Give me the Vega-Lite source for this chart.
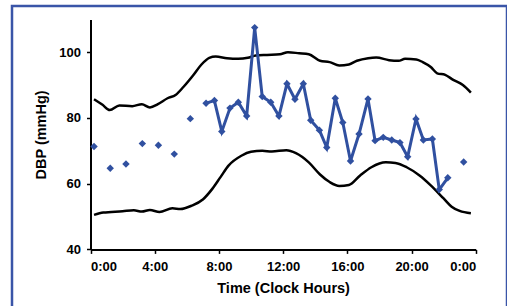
{
  "$schema": "https://vega.github.io/schema/vega-lite/v6.json",
  "autosize": "none",
  "padding": {"left": 12, "top": 6, "right": 0, "bottom": 0},
  "width": 495,
  "height": 320,
  "background": "white",
  "config": {
    "view": {"stroke": "#3a55a8", "strokeWidth": 2.5},
    "font": "Liberation Sans",
    "axis": {
      "grid": false,
      "domainColor": "black",
      "domainWidth": 2,
      "tickColor": "black",
      "tickWidth": 1.5,
      "tickSize": 4,
      "labelFont": "Liberation Sans",
      "labelFontWeight": "bold",
      "labelFontSize": 13,
      "labelColor": "black",
      "titleFont": "Liberation Sans",
      "titleFontWeight": "bold",
      "titleFontSize": 14.5,
      "titleColor": "black"
    }
  },
  "datasets": {
    "bp": [
      {"t": 0.22, "v": 71.3, "linked": false},
      {"t": 1.23, "v": 64.7, "linked": false},
      {"t": 2.21, "v": 66.0, "linked": false},
      {"t": 3.23, "v": 72.2, "linked": false},
      {"t": 4.23, "v": 71.7, "linked": false},
      {"t": 5.22, "v": 69.0, "linked": false},
      {"t": 6.22, "v": 79.8, "linked": false},
      {"t": 7.2, "v": 84.5, "linked": true},
      {"t": 7.72, "v": 85.3, "linked": true},
      {"t": 8.18, "v": 75.9, "linked": true},
      {"t": 8.69, "v": 83.0, "linked": true},
      {"t": 9.21, "v": 84.8, "linked": true},
      {"t": 9.73, "v": 80.6, "linked": true},
      {"t": 10.23, "v": 107.5, "linked": true},
      {"t": 10.7, "v": 86.5, "linked": true},
      {"t": 11.23, "v": 84.8, "linked": true},
      {"t": 11.74, "v": 80.6, "linked": true},
      {"t": 12.24, "v": 90.4, "linked": true},
      {"t": 12.74, "v": 85.7, "linked": true},
      {"t": 13.26, "v": 90.4, "linked": true},
      {"t": 13.72, "v": 79.3, "linked": true},
      {"t": 14.26, "v": 76.3, "linked": true},
      {"t": 14.72, "v": 71.0, "linked": true},
      {"t": 15.25, "v": 86.0, "linked": true},
      {"t": 15.72, "v": 78.6, "linked": true},
      {"t": 16.2, "v": 66.9, "linked": true},
      {"t": 16.73, "v": 75.1, "linked": true},
      {"t": 17.29, "v": 85.8, "linked": true},
      {"t": 17.73, "v": 73.1, "linked": true},
      {"t": 18.24, "v": 74.1, "linked": true},
      {"t": 18.77, "v": 73.3, "linked": true},
      {"t": 19.28, "v": 72.5, "linked": true},
      {"t": 19.76, "v": 68.2, "linked": true},
      {"t": 20.28, "v": 79.7, "linked": true},
      {"t": 20.74, "v": 73.3, "linked": true},
      {"t": 21.3, "v": 73.6, "linked": true},
      {"t": 21.73, "v": 58.2, "linked": true},
      {"t": 22.26, "v": 61.8, "linked": true},
      {"t": 23.25, "v": 66.6, "linked": false}
    ],
    "bands": [
      {"band": "upper", "t": 0.22, "v": 85.7},
      {"band": "upper", "t": 0.75, "v": 84.0},
      {"band": "upper", "t": 1.2, "v": 82.4},
      {"band": "upper", "t": 1.8, "v": 83.8},
      {"band": "upper", "t": 2.6, "v": 83.6},
      {"band": "upper", "t": 3.2, "v": 84.2},
      {"band": "upper", "t": 3.7, "v": 83.2},
      {"band": "upper", "t": 4.2, "v": 84.2},
      {"band": "upper", "t": 4.8, "v": 86.0},
      {"band": "upper", "t": 5.3, "v": 87.0},
      {"band": "upper", "t": 5.8, "v": 89.5},
      {"band": "upper", "t": 6.4, "v": 93.0},
      {"band": "upper", "t": 6.9, "v": 96.2},
      {"band": "upper", "t": 7.4, "v": 98.3},
      {"band": "upper", "t": 7.8, "v": 98.7},
      {"band": "upper", "t": 8.5, "v": 98.2},
      {"band": "upper", "t": 9.2, "v": 98.0},
      {"band": "upper", "t": 9.8, "v": 98.3},
      {"band": "upper", "t": 10.3, "v": 99.0},
      {"band": "upper", "t": 11.0, "v": 99.2},
      {"band": "upper", "t": 11.8, "v": 99.4},
      {"band": "upper", "t": 12.3, "v": 100.0},
      {"band": "upper", "t": 13.0, "v": 99.7},
      {"band": "upper", "t": 13.6, "v": 99.4},
      {"band": "upper", "t": 14.3, "v": 97.4},
      {"band": "upper", "t": 14.9, "v": 97.0},
      {"band": "upper", "t": 15.5, "v": 96.0},
      {"band": "upper", "t": 16.1, "v": 96.3},
      {"band": "upper", "t": 16.6, "v": 97.4},
      {"band": "upper", "t": 17.3, "v": 98.2},
      {"band": "upper", "t": 17.8, "v": 98.4},
      {"band": "upper", "t": 18.6, "v": 97.6},
      {"band": "upper", "t": 19.2, "v": 97.4},
      {"band": "upper", "t": 19.6, "v": 98.0},
      {"band": "upper", "t": 20.3, "v": 97.8},
      {"band": "upper", "t": 20.7, "v": 97.0},
      {"band": "upper", "t": 21.2, "v": 95.5},
      {"band": "upper", "t": 21.6, "v": 93.6},
      {"band": "upper", "t": 22.1, "v": 93.1},
      {"band": "upper", "t": 22.6, "v": 91.6},
      {"band": "upper", "t": 23.2, "v": 90.0},
      {"band": "upper", "t": 23.7, "v": 87.7},
      {"band": "lower", "t": 0.22, "v": 50.5},
      {"band": "lower", "t": 0.8, "v": 51.2},
      {"band": "lower", "t": 2.0, "v": 51.6},
      {"band": "lower", "t": 2.7, "v": 51.9},
      {"band": "lower", "t": 3.2, "v": 51.5},
      {"band": "lower", "t": 3.7, "v": 52.0},
      {"band": "lower", "t": 4.3, "v": 51.4},
      {"band": "lower", "t": 5.1, "v": 52.5},
      {"band": "lower", "t": 5.6, "v": 52.3},
      {"band": "lower", "t": 6.3, "v": 53.3},
      {"band": "lower", "t": 7.0, "v": 55.2},
      {"band": "lower", "t": 7.6, "v": 58.5},
      {"band": "lower", "t": 8.1, "v": 62.0},
      {"band": "lower", "t": 8.6, "v": 65.5},
      {"band": "lower", "t": 9.4, "v": 68.5},
      {"band": "lower", "t": 10.0, "v": 69.7},
      {"band": "lower", "t": 10.7, "v": 70.0},
      {"band": "lower", "t": 11.3, "v": 69.8},
      {"band": "lower", "t": 12.2, "v": 70.2},
      {"band": "lower", "t": 12.8, "v": 69.3},
      {"band": "lower", "t": 13.6, "v": 66.5},
      {"band": "lower", "t": 14.3, "v": 62.8},
      {"band": "lower", "t": 14.9, "v": 60.5},
      {"band": "lower", "t": 15.5, "v": 59.3},
      {"band": "lower", "t": 16.1, "v": 59.6},
      {"band": "lower", "t": 16.8, "v": 62.5},
      {"band": "lower", "t": 17.5, "v": 65.0},
      {"band": "lower", "t": 18.4, "v": 66.5},
      {"band": "lower", "t": 19.0, "v": 66.3},
      {"band": "lower", "t": 19.7, "v": 65.0},
      {"band": "lower", "t": 20.5, "v": 62.5},
      {"band": "lower", "t": 21.2, "v": 59.5},
      {"band": "lower", "t": 22.0, "v": 55.5},
      {"band": "lower", "t": 22.5, "v": 53.0},
      {"band": "lower", "t": 23.0, "v": 51.7},
      {"band": "lower", "t": 23.7, "v": 51.0}
    ]
  },
  "encoding": {
    "x": {
      "field": "t",
      "type": "quantitative",
      "scale": {"domain": [0, 24], "range": [78.5, 463.7], "nice": false, "zero": false},
      "axis": {
        "title": "Time (Clock Hours)",
        "values": [0, 4, 8, 12, 16, 20, 24],
        "labelExpr": "(datum.value % 24) + ':00'",
        "offset": -76.6,
        "labelPadding": 7,
        "titlePadding": 8
      }
    },
    "y": {
      "field": "v",
      "type": "quantitative",
      "scale": {"domain": [40, 110], "range": [243.4, 13.4], "nice": false, "zero": false},
      "axis": {
        "title": "DBP (mmHg)",
        "values": [40, 60, 80, 100],
        "offset": -78.5,
        "labelPadding": 6,
        "titlePadding": 10
      }
    }
  },
  "layer": [
    {
      "data": {"name": "bands"},
      "mark": {"type": "line", "color": "black", "strokeWidth": 2.5, "interpolate": "monotone"},
      "encoding": {"detail": {"field": "band"}}
    },
    {
      "data": {"name": "bp"},
      "transform": [{"filter": "datum.linked"}],
      "mark": {"type": "line", "color": "#3050a0", "strokeWidth": 3},
      "encoding": {}
    },
    {
      "data": {"name": "bp"},
      "mark": {"type": "point", "shape": "diamond", "filled": true, "color": "#3050a0", "opacity": 1, "size": 55},
      "encoding": {}
    }
  ]
}
